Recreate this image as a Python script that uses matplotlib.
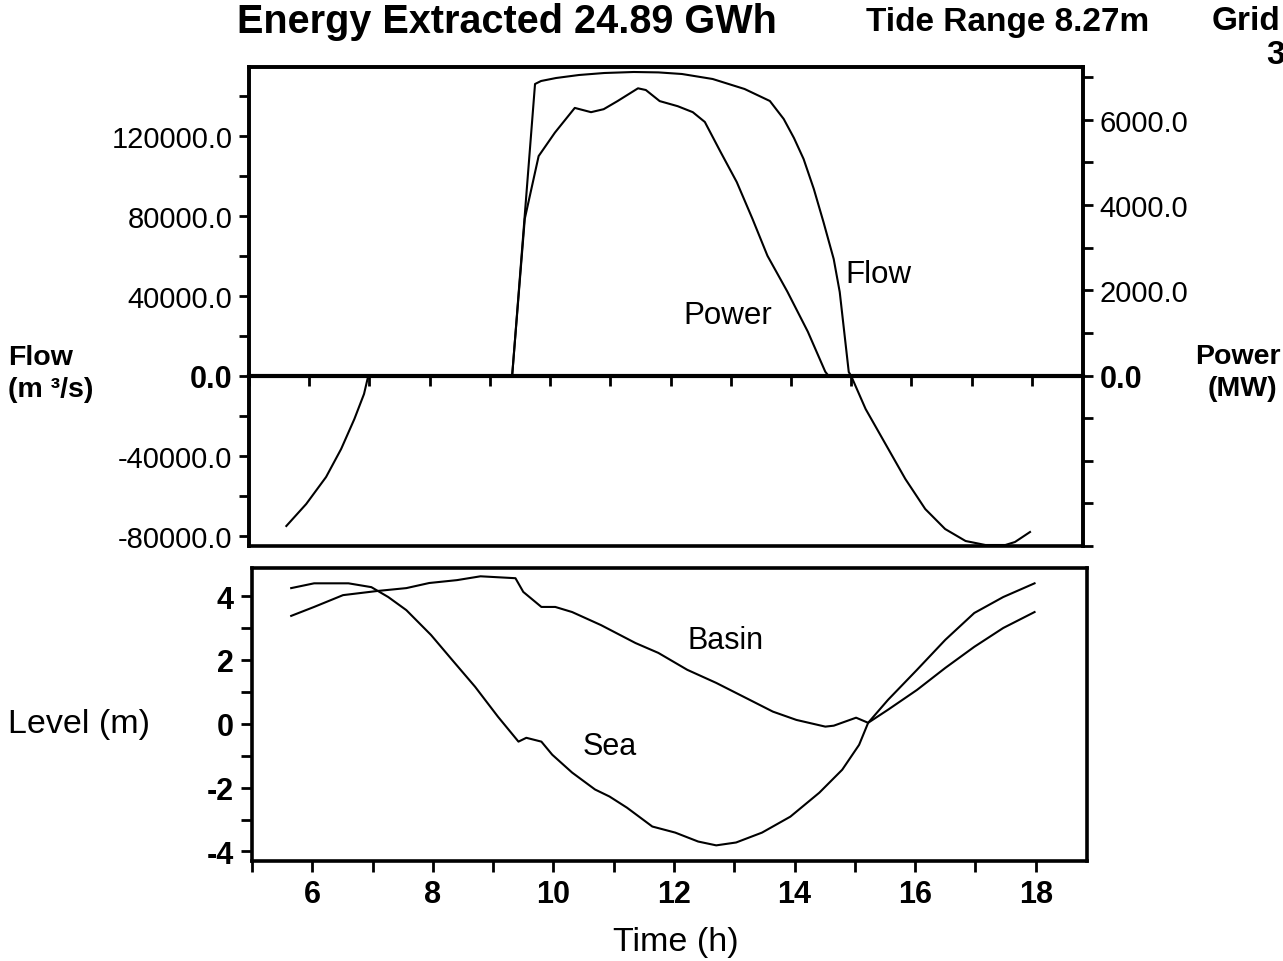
import numpy as np
import matplotlib
matplotlib.use('Agg')
import matplotlib.pyplot as plt

plt.rcParams['font.family'] = ['Liberation Sans', 'DejaVu Sans']

# flow through the barrage (m3/s)
flow_t = [5.62, 5.95, 6.28, 6.53, 6.75, 6.91, 6.98, 9.37, 9.75, 9.85, 10.10, 10.48, 10.90, 11.39,
          11.80, 12.19, 12.70, 13.23, 13.65, 13.88, 14.05, 14.21, 14.38, 14.54, 14.71, 14.81, 14.96, 15.0,
          15.24, 15.57, 15.90, 16.23, 16.56, 16.90, 17.23, 17.56, 17.72, 17.97]
flow_q = [-75000, -64000, -50500, -36500, -21500, -9000, 0, 0, 146000, 147500, 149000, 150500, 151500, 152000,
          151800, 151000, 148500, 143500, 137500, 128500, 119000, 108500, 93500, 77000, 58500, 42000, 2000, 0,
          -16500, -34000, -51500, -66500, -76500, -82500, -84500, -84500, -83000, -78000]

# power generated (MW)
power_t = [9.37, 9.58, 9.81, 10.08, 10.41, 10.68, 10.89, 11.12, 11.46, 11.59, 11.82,
           12.12, 12.37, 12.57, 12.83, 13.10, 13.36, 13.61, 13.94, 14.28, 14.57, 14.62]
power_p = [0, 3680, 5150, 5700, 6280, 6180, 6250, 6440, 6740, 6700, 6440,
           6320, 6180, 5950, 5250, 4540, 3680, 2810, 1970, 1030, 90, 0]

# sea level (m)
sea_t = [5.65, 6.03, 6.60, 6.98, 7.26, 7.56, 7.97, 8.32, 8.70, 9.08, 9.42, 9.55, 9.80,
         9.98, 10.31, 10.69, 10.93, 11.22, 11.64, 12.02, 12.40, 12.70, 13.03, 13.46,
         13.93, 14.41, 14.79, 15.07, 15.22, 15.55, 16.03, 16.50, 16.98, 17.46, 17.98]
sea_l = [4.25, 4.40, 4.40, 4.28, 3.97, 3.56, 2.78, 2.00, 1.16, 0.22, -0.56, -0.44, -0.56,
         -0.97, -1.53, -2.06, -2.28, -2.63, -3.22, -3.41, -3.69, -3.81, -3.72, -3.41,
         -2.91, -2.16, -1.44, -0.66, 0.03, 0.75, 1.69, 2.63, 3.47, 3.97, 4.40]

# basin level (m)
basin_t = [5.65, 6.03, 6.51, 7.08, 7.56, 7.94, 8.40, 8.79, 9.08, 9.37, 9.50, 9.80, 10.03,
           10.31, 10.79, 11.36, 11.74, 12.22, 12.70, 13.16, 13.64, 14.03, 14.51, 14.65,
           15.02, 15.22, 15.55, 16.03, 16.50, 16.98, 17.46, 17.98]
basin_l = [3.38, 3.66, 4.03, 4.16, 4.25, 4.41, 4.50, 4.62, 4.59, 4.56, 4.13, 3.66, 3.66,
           3.50, 3.09, 2.53, 2.22, 1.69, 1.28, 0.84, 0.38, 0.12, -0.09, -0.06,
           0.19, 0.03, 0.44, 1.06, 1.75, 2.41, 3.00, 3.50]

flow_ticks = np.arange(-80000, 140001, 20000)
flow_labels = ['%.1f' % v if v % 40000 == 0 else '' for v in flow_ticks]
power_ticks = np.arange(-4000, 7001, 1000)
power_labels = ['%.1f' % v if (v >= 0 and v % 2000 == 0) else '' for v in power_ticks]
level_ticks = np.arange(-4, 5, 1)
level_labels = ['%d' % v if v % 2 == 0 else '' for v in level_ticks]
time_ticks = np.arange(5, 19, 1)
time_labels = ['%d' % v if v % 2 == 0 else '' for v in time_ticks]

W, H = 1283, 962
fig = plt.figure(figsize=(W / 100, H / 100), dpi=100)

def box(l, t, r, b):
    return [l / W, 1 - b / H, (r - l) / W, (b - t) / H]

lw_sp = 2.6
lw_ln = 1.5

# ---- upper panel: flow and power
ax1 = fig.add_axes(box(249, 68, 1083, 547))
ax2 = ax1.twinx()
ax1.set_xlim(5, 18.85)
ax1.set_ylim(-85000, 154500)
ax2.set_ylim(-3980, 7240)

ax1.plot(flow_t, flow_q, color='k', lw=lw_ln)
ax2.plot(power_t, power_p, color='k', lw=lw_ln)

ax1.spines['bottom'].set_position(('data', 0))
for ax in (ax1, ax2):
    for s in ax.spines.values():
        s.set_linewidth(lw_sp)
ax1.spines['bottom'].set_linewidth(3.0)

ax1.set_xticks(time_ticks)
ax1.tick_params(axis='x', direction='out', length=7, width=2, labelbottom=False)
ax1.set_yticks(flow_ticks, flow_labels)
ax1.tick_params(axis='y', direction='out', length=7, width=2, labelsize=21, pad=5)
ax2.set_yticks(power_ticks, power_labels)
ax2.tick_params(axis='y', direction='out', length=7, width=2, labelsize=21, pad=5)
for lab in ax1.get_yticklabels() + ax2.get_yticklabels():
    if lab.get_text() == '0.0':
        lab.set_fontweight('bold')
        lab.set_fontsize(22)

ax1.text(14.9, 51000, 'Flow', fontsize=22.5, va='center', ha='left')
ax1.text(12.22, 30500, 'Power', fontsize=22.5, va='center', ha='left')

# ---- lower panel: levels
ax3 = fig.add_axes(box(252, 569, 1087, 862))
ax3.set_xlim(5, 18.85)
ax3.set_ylim(-4.3, 4.88)
ax3.plot(sea_t, sea_l, color='k', lw=lw_ln)
ax3.plot(basin_t, basin_l, color='k', lw=lw_ln)
for s in ax3.spines.values():
    s.set_linewidth(lw_sp)
ax3.set_xticks(time_ticks, time_labels)
ax3.set_yticks(level_ticks, level_labels)
ax3.tick_params(direction='out', length=8, width=2, labelsize=22, pad=5)
for lab in ax3.get_xticklabels() + ax3.get_yticklabels():
    lab.set_fontweight('bold')
ax3.text(12.22, 2.63, 'Basin', fontsize=22, va='center', ha='left')
ax3.text(10.48, -0.69, 'Sea', fontsize=22, va='center', ha='left')

# ---- labels round the figure
def ftext(px, py, s, **kw):
    fig.text(px / W, 1 - py / H, s, **kw)

ftext(237, 22, 'Energy Extracted 24.89 GWh', fontsize=28.5, fontweight='bold', va='center')
ftext(866, 22, 'Tide Range 8.27m', fontsize=24, fontweight='bold', va='center')
ftext(1212, 22, 'Grid', fontsize=24, fontweight='bold', va='center')
ftext(1266, 55, '3', fontsize=24, fontweight='bold', va='center')
ftext(8, 358, 'Flow', fontsize=20.5, fontweight='bold', va='center')
ftext(8, 390, '(m ³/s)', fontsize=20.5, fontweight='bold', va='center')
ftext(1238, 357, 'Power', fontsize=20.5, fontweight='bold', va='center', ha='center')
ftext(1242, 389, '(MW)', fontsize=20.5, fontweight='bold', va='center', ha='center')
ftext(8, 724, 'Level (m)', fontsize=24.5, va='center')
ftext(676, 943, 'Time (h)', fontsize=24.5, va='center', ha='center')

fig.savefig('out.png', dpi=100)
